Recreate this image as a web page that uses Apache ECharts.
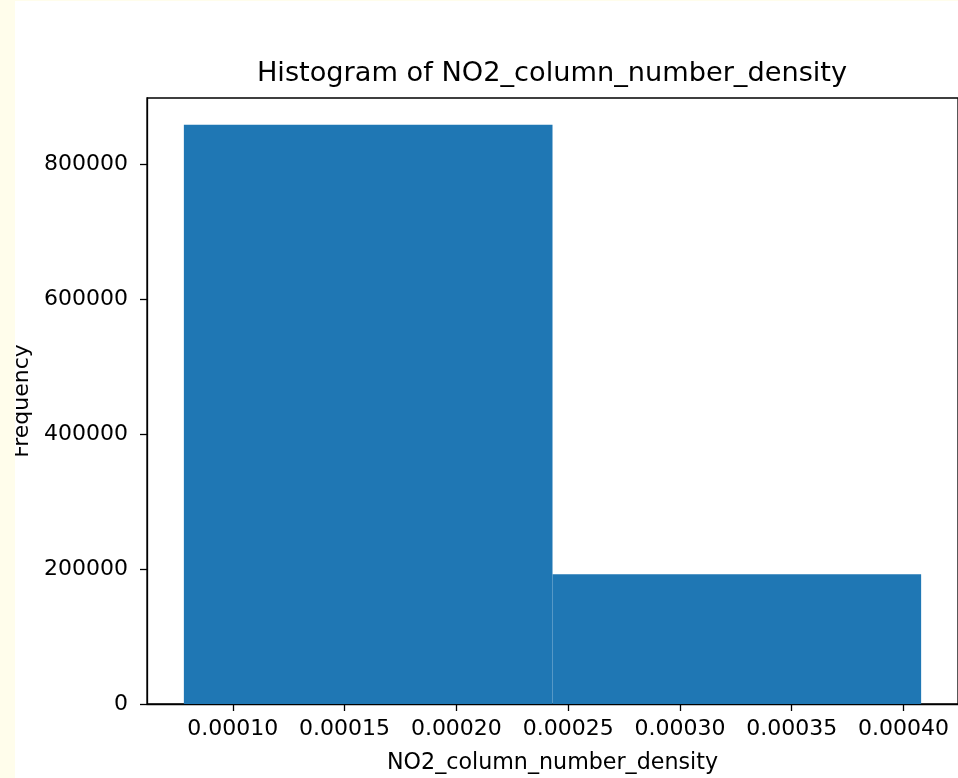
<!DOCTYPE html>
<html>
<head>
<meta charset="utf-8">
<script src="https://cdn.jsdelivr.net/npm/echarts@6/dist/echarts.min.js"></script>
<style>
  html, body { margin: 0; padding: 0; background: #fffdeb; width: 958px; height: 778px; overflow: hidden; }
  #chart { position: absolute; left: 15px; top: 1px; width: 943px; height: 777px; background: #ffffff; }
</style>
</head>
<body>
<div id="chart"></div>
<script>
// Histogram bins (edges) and counts
const binEdges = [0.0000781, 0.0002430, 0.0004079];
const binCounts = [858400, 192300];
// Tick positions shown on each axis
const xTicks = [0.00010, 0.00015, 0.00020, 0.00025, 0.00030, 0.00035, 0.00040];
const yTicks = [0, 200000, 400000, 600000, 800000];

const titleText = 'Histogram of NO2_column_number_density';
const xName = 'NO2_column_number_density';
const yName = 'Frequency';

// Bars as [start, end, count]
const bars = binCounts.map((c, i) => [binEdges[i], binEdges[i + 1], c]);

// 5% margins around the bins on x; y headroom above the tallest bar
const span = binEdges[binEdges.length - 1] - binEdges[0];
const xMin = binEdges[0] - 0.05 * span;
const xMax = binEdges[binEdges.length - 1] + 0.05 * span;
const yMax = 898000;

const font = 'DejaVu Sans';
const chart = echarts.init(document.getElementById('chart'), null, { renderer: 'canvas' });

chart.setOption({
  animation: false,
  backgroundColor: '#ffffff',
  title: {
    text: titleText,
    left: 537,
    top: 59,
    textAlign: 'center',
    padding: 0,
    textStyle: { fontFamily: font, fontSize: 27.2, fontWeight: 'normal', color: '#000' }
  },
  grid: {
    left: 132, right: 0, top: 97, bottom: 74,
    containLabel: false,
    outerBoundsMode: 'none',
    show: true, borderColor: '#000', borderWidth: 1.3, backgroundColor: 'transparent'
  },
  xAxis: {
    type: 'value',
    min: xMin,
    max: xMax,
    name: xName,
    nameLocation: 'middle',
    nameGap: 48,
    nameTextStyle: { fontFamily: font, fontSize: 22.2, color: '#000' },
    axisLine: { show: true, lineStyle: { color: '#000', width: 1.3 } },
    axisTick: { show: true, inside: false, length: 7, lineStyle: { color: '#000', width: 1.3 }, customValues: xTicks },
    axisLabel: {
      fontFamily: font, fontSize: 22, color: '#000', margin: 14,
      customValues: xTicks,
      formatter: v => v.toFixed(5)
    },
    splitLine: { show: false }
  },
  yAxis: {
    type: 'value',
    min: 0,
    max: yMax,
    name: yName,
    nameLocation: 'middle',
    nameGap: 105,
    nameTextStyle: { fontFamily: font, fontSize: 22, color: '#000' },
    axisLine: { show: true, lineStyle: { color: '#000', width: 1.3 } },
    axisTick: { show: true, inside: false, length: 7, lineStyle: { color: '#000', width: 1.3 }, customValues: yTicks },
    axisLabel: {
      fontFamily: font, fontSize: 22, color: '#000', margin: 19,
      customValues: yTicks,
      formatter: v => String(v)
    },
    splitLine: { show: false }
  },
  series: [{
    type: 'custom',
    data: bars,
    encode: { x: [0, 1], y: 2 },
    renderItem: function (params, api) {
      const p0 = api.coord([api.value(0), api.value(2)]);
      const p1 = api.coord([api.value(1), 0]);
      return {
        type: 'rect',
        shape: { x: p0[0], y: p0[1], width: p1[0] - p0[0], height: p1[1] - p0[1] },
        style: { fill: '#1f77b4' }
      };
    }
  }]
});
</script>
</body>
</html>
